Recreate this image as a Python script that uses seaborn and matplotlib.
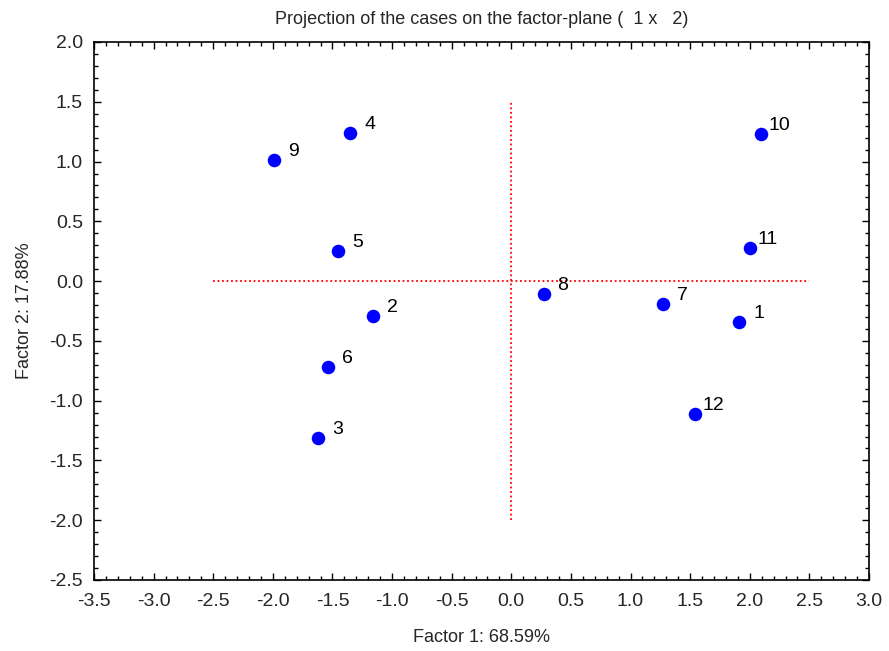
import matplotlib
matplotlib.use("Agg")
import matplotlib.pyplot as plt
import seaborn as sns
import pandas as pd
from matplotlib.ticker import MultipleLocator

case_labels = ["1", "2", "3", "4", "5", "6", "7", "8", "9", "10", "11", "12"]
factor1 = [1.91, -1.16, -1.62, -1.35, -1.45, -1.54, 1.27, 0.27, -1.99, 2.09, 2.00, 1.54]
factor2 = [-0.34, -0.29, -1.31, 1.24, 0.25, -0.72, -0.19, -0.11, 1.01, 1.23, 0.28, -1.11]

df = pd.DataFrame({"f1": factor1, "f2": factor2, "label": case_labels})

sns.set_theme(style="white")
plt.rcParams["font.family"] = ["Liberation Sans", "DejaVu Sans"]

fig = plt.figure(figsize=(8.89, 6.51), dpi=100)
ax = fig.add_axes([94 / 889, 1 - 580 / 651, (869 - 94) / 889, (580 - 42) / 651])

# reference lines
ax.plot([-2.5, 2.5], [0, 0], color="red", linestyle=(0, (1, 1.5)), linewidth=1.3, zorder=1)
ax.plot([0, 0], [-2.0, 1.5], color="red", linestyle=(0, (1, 1.5)), linewidth=1.3, zorder=1)

sns.scatterplot(data=df, x="f1", y="f2", ax=ax, color="#0000ff", s=95,
                edgecolor="#0000ff", linewidth=0, zorder=3)

for x, y, lab in zip(factor1, factor2, case_labels):
    dx = 14 if len(lab) == 1 else 8
    ax.annotate(lab, (x, y), xytext=(dx, 4), textcoords="offset pixels",
                ha="left", va="baseline", fontsize=14, color="black")

ax.set_xlim(-3.5, 3.0)
ax.set_ylim(-2.5, 2.0)
ax.xaxis.set_major_locator(MultipleLocator(0.5))
ax.yaxis.set_major_locator(MultipleLocator(0.5))
ax.xaxis.set_minor_locator(MultipleLocator(0.1))
ax.yaxis.set_minor_locator(MultipleLocator(0.1))
ax.xaxis.set_major_formatter(matplotlib.ticker.FormatStrFormatter("%.1f"))
ax.yaxis.set_major_formatter(matplotlib.ticker.FormatStrFormatter("%.1f"))
ax.tick_params(which="both", direction="in", top=True, right=True, bottom=True, left=True,
               color="black")
ax.tick_params(which="major", length=5, width=1, labelsize=14)
ax.tick_params(axis="x", which="major", pad=9)
ax.tick_params(axis="y", which="major", pad=8)
ax.tick_params(which="minor", length=3, width=1)
for sp in ax.spines.values():
    sp.set_color("black")
    sp.set_linewidth(1.2)

ax.set_xlabel("Factor 1: 68.59%", fontsize=13, labelpad=14)
ax.set_ylabel("Factor 2: 17.88%", fontsize=13, labelpad=12)
ax.set_title("Projection of the cases on the factor-plane (  1 x   2)", fontsize=13, pad=13)

fig.savefig("out.png", dpi=100)
